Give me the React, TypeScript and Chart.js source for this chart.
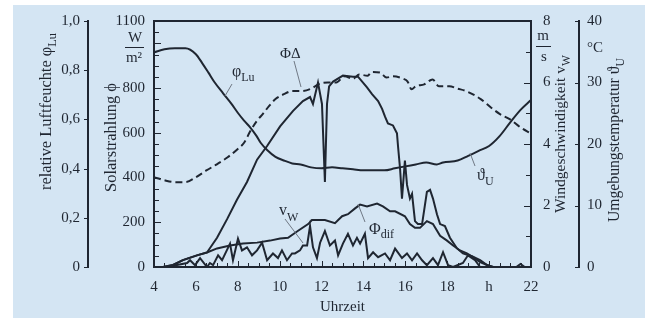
import React, { useEffect, useRef } from "react";
import { Chart, registerables } from "chart.js";

Chart.register(...registerables);

const W = 649;
const H = 320;
const INK = "#1f2631";
const LEADER = "#707985";
const BG = "#d4e5f3";
const SERIF = "'Liberation Serif', 'DejaVu Serif', serif";

// tick values
const timeTicks = [4, 6, 8, 10, 12, 14, 16, 18, 20, 22];
const solarTicks = [0, 200, 400, 600, 800, 1100];
const humidityTicks = [0, 0.2, 0.4, 0.6, 0.8, 1.0];
const windTicks = [0, 2, 4, 6, 8];
const tempTicks = [0, 10, 20, 30, 40];

// relative humidity φLu (0..1)
const humidityTime = [4.0, 4.5, 5.0, 5.5, 6.0, 6.3, 6.6, 6.9, 7.3, 7.7, 8.0, 8.3, 8.6, 8.9, 9.1, 9.4, 9.8, 10.2, 10.6, 11.0, 11.5, 12.0, 12.5, 13.0, 13.5, 14.0, 14.5, 15.0, 15.5, 16.0, 16.5, 17.0, 17.5, 17.8, 18.5, 19.0, 19.5, 20.0, 20.5, 21.0, 21.5, 22.0];
const humidityValue = [0.873, 0.885, 0.889, 0.889, 0.865, 0.829, 0.79, 0.75, 0.706, 0.663, 0.627, 0.595, 0.567, 0.532, 0.504, 0.476, 0.448, 0.433, 0.421, 0.417, 0.405, 0.401, 0.405, 0.401, 0.397, 0.393, 0.393, 0.393, 0.401, 0.409, 0.417, 0.425, 0.417, 0.425, 0.433, 0.452, 0.472, 0.492, 0.532, 0.587, 0.639, 0.679];

// ambient temperature ϑU (°C)
const tempTime = [4.0, 4.5, 5.0, 5.5, 6.0, 6.5, 7.0, 7.5, 8.0, 8.3, 8.6, 8.9, 9.2, 9.5, 9.8, 10.2, 10.6, 11.0, 11.5, 11.9, 12.3, 12.7, 13.1, 13.5, 13.8, 14.2, 14.4, 14.8, 15.1, 15.4, 15.9, 16.1, 16.3, 16.5, 16.9, 17.3, 17.6, 18.1, 18.5, 18.9, 19.6, 20.1, 20.5, 21.0, 21.5, 22.0];
const tempValue = [14.6, 14.1, 13.8, 13.8, 14.6, 15.7, 16.7, 17.8, 19.2, 20.2, 22.1, 23.7, 24.9, 26.2, 27.3, 28.1, 28.6, 28.6, 29.0, 29.8, 30.0, 30.0, 31.0, 30.6, 31.3, 31.1, 31.7, 31.6, 30.8, 31.0, 30.6, 30.2, 28.9, 29.4, 29.7, 30.5, 29.4, 29.4, 29.0, 28.6, 27.3, 25.9, 24.9, 24.0, 22.7, 21.7];

// global solar radiation ΦΔ (W/m²)
const globalTime = [4.43, 4.91, 5.38, 6.05, 6.53, 7.01, 7.49, 7.96, 8.44, 8.92, 9.4, 10.02, 10.64, 11.11, 11.45, 11.59, 11.83, 12.02, 12.16, 12.26, 12.36, 12.55, 13.02, 13.5, 13.74, 14.17, 14.41, 14.7, 14.89, 15.03, 15.17, 15.41, 15.6, 15.65, 15.75, 15.84, 15.98, 16.08, 16.22, 16.32, 16.46, 16.6, 16.8, 17.03, 17.18, 17.32, 17.51, 17.66, 17.89, 18.13, 18.47, 18.75, 19.18, 19.57, 19.9, 20.19];
const globalValue = [0, 9, 31, 52, 65, 131, 214, 301, 380, 480, 541, 629, 698, 742, 760, 729, 825, 729, 380, 729, 808, 829, 856, 851, 851, 803, 773, 742, 707, 672, 642, 633, 598, 541, 437, 306, 476, 367, 306, 327, 205, 192, 192, 336, 345, 306, 236, 192, 183, 131, 83, 61, 48, 31, 9, 0];

// diffuse radiation Φdif (W/m²)
const diffuseTime = [4.43, 4.91, 5.38, 6.05, 6.53, 7.01, 7.63, 8.25, 8.92, 9.54, 10.02, 10.4, 10.88, 11.36, 11.54, 12.16, 12.64, 12.98, 13.26, 13.6, 13.84, 14.17, 14.65, 14.93, 15.27, 15.51, 15.98, 16.22, 16.46, 16.7, 17.03, 17.32, 17.66, 17.99, 18.28, 18.61, 18.94, 19.23, 19.57, 19.9, 20.19];
const diffuseValue = [0, 9, 31, 52, 65, 83, 96, 105, 109, 118, 127, 131, 162, 192, 210, 210, 196, 227, 236, 262, 279, 271, 284, 271, 249, 249, 227, 192, 175, 175, 205, 192, 140, 118, 96, 74, 61, 44, 22, 9, 0];

// wind speed vW (m/s)
const windTime = [4.62, 5.58, 5.72, 5.96, 6.2, 6.53, 6.67, 6.82, 7.06, 7.25, 7.63, 7.77, 8.01, 8.2, 8.44, 8.68, 8.92, 9.16, 9.4, 9.68, 9.92, 10.11, 10.35, 10.59, 10.73, 10.97, 11.11, 11.31, 11.45, 11.59, 11.78, 11.93, 12.16, 12.4, 12.64, 12.79, 13.02, 13.26, 13.5, 13.69, 13.84, 14.07, 14.22, 14.46, 14.7, 15.03, 15.27, 15.51, 15.84, 16.08, 16.32, 16.56, 16.8, 17.03, 17.32, 17.56, 17.8, 18.04, 18.28, 18.75, 18.99, 19.33, 19.57, 21.3, 21.5, 21.7];
const windValue = [0, 0.13, 0.22, 0.06, 0.29, 0, 0.13, 0.06, 0.38, 0.22, 0.76, 0.22, 0.92, 0.54, 0.64, 0.38, 0.54, 0.79, 0.22, 0.44, 0.29, 0.54, 0.22, 0.44, 0.44, 0.54, 0.7, 0.7, 1.33, 0.64, 0.29, 0.79, 1.17, 0.7, 0.86, 0.38, 0.76, 1.08, 0.7, 0.95, 0.76, 1.08, 0.29, 0.48, 0.32, 0.44, 0.22, 0.6, 0.29, 0.44, 0.22, 0.44, 0.22, 0.06, 0.29, 0.06, 0.48, 0.06, 0, 0.13, 0.38, 0.22, 0, 0, 0.1, 0];

function pts(t: number[], v: number[]) {
  return t.map((x, i) => ({ x, y: v[i] }));
}

type Part = { t: string; size: number; dy: number };

function drawRich(ctx: CanvasRenderingContext2D, parts: Part[], x: number, y: number, scale = 1) {
  let cx = x;
  for (const p of parts) {
    ctx.font = `${p.size * scale}px ${SERIF}`;
    ctx.fillText(p.t, cx, y + p.dy * scale);
    cx += ctx.measureText(p.t).width;
  }
}

function richWidth(ctx: CanvasRenderingContext2D, parts: Part[]) {
  let w = 0;
  for (const p of parts) {
    ctx.font = `${p.size}px ${SERIF}`;
    w += ctx.measureText(p.t).width;
  }
  return w;
}

// vertical text reading bottom-to-top, fitted between yBottom and yTop
function drawVertical(ctx: CanvasRenderingContext2D, parts: Part[], baseX: number, yBottom: number, yTop: number) {
  const w = richWidth(ctx, parts);
  const scale = Math.min(1.15, Math.max(0.85, (yBottom - yTop) / w));
  ctx.save();
  ctx.translate(baseX, yBottom);
  ctx.rotate(-Math.PI / 2);
  ctx.textAlign = "left";
  ctx.textBaseline = "alphabetic";
  drawRich(ctx, parts, 0, 0, scale);
  ctx.restore();
}

function line(ctx: CanvasRenderingContext2D, x1: number, y1: number, x2: number, y2: number) {
  ctx.beginPath();
  ctx.moveTo(x1, y1);
  ctx.lineTo(x2, y2);
  ctx.stroke();
}

const decorPlugin = {
  id: "decor",
  beforeDraw(chart: any) {
    const ctx: CanvasRenderingContext2D = chart.ctx;
    ctx.save();
    ctx.fillStyle = "#ffffff";
    ctx.fillRect(0, 0, W, H);
    ctx.fillStyle = BG;
    ctx.fillRect(13, 5, 632, 313);
    ctx.restore();
  },
  afterDraw(chart: any) {
    const ctx: CanvasRenderingContext2D = chart.ctx;
    const a = chart.chartArea;
    const { x: sx, yS, yW, yH, yT } = chart.scales;
    ctx.save();
    ctx.strokeStyle = INK;
    ctx.fillStyle = INK;

    // top frame line
    ctx.lineWidth = 2;
    line(ctx, a.left - 1, a.top, a.right + 1, a.top);

    // inner ticks
    ctx.lineWidth = 1;
    for (let v = 50; v < 1100; v += 50) {
      const y = Math.round(yS.getPixelForValue(v)) + 0.5;
      const len = v % 200 === 0 ? 7 : 5;
      line(ctx, a.left, y, a.left + len, y);
    }
    for (let v = 1; v < 8; v += 1) {
      const y = Math.round(yW.getPixelForValue(v)) + 0.5;
      const len = v % 2 === 0 ? 7 : 5;
      line(ctx, a.right, y, a.right - len, y);
    }
    for (let t = 4.5; t < 22; t += 0.5) {
      const x = Math.round(sx.getPixelForValue(t)) + 0.5;
      const len = Math.abs(t % 2) < 0.01 ? 6 : 4;
      line(ctx, x, a.bottom, x, a.bottom - len);
    }
    // ticks on the humidity and temperature axes
    const hx = yH.right;
    for (const v of humidityTicks) {
      const y = Math.round(yH.getPixelForValue(v)) + 0.5;
      line(ctx, hx, y, hx - 4, y);
    }
    const tx = yT.left;
    for (const v of tempTicks) {
      const y = Math.round(yT.getPixelForValue(v)) + 0.5;
      line(ctx, tx - 4, y, tx, y);
    }

    // axis titles
    ctx.fillStyle = INK;
    drawVertical(ctx, [
      { t: "relative Luftfeuchte φ", size: 16, dy: 0 },
      { t: "Lu", size: 12, dy: 5 },
    ], 51, 190, 33);
    drawVertical(ctx, [{ t: "Solarstrahlung ϕ", size: 16, dy: 0 }], 116, 192, 83);
    drawVertical(ctx, [
      { t: "Windgeschwindigkeit v", size: 16, dy: 0 },
      { t: "W", size: 12, dy: 5 },
    ], 565, 213, 55);
    drawVertical(ctx, [
      { t: "Umgebungstemperatur ϑ", size: 16, dy: 0 },
      { t: "U", size: 12, dy: 5 },
    ], 619, 222, 58);

    // unit labels
    ctx.textAlign = "center";
    ctx.textBaseline = "middle";
    ctx.font = `15px ${SERIF}`;
    ctx.fillText("W", 135, 38);
    ctx.fillText("m²", 134, 58);
    ctx.lineWidth = 1;
    line(ctx, 125, 47.5, 144, 47.5);
    ctx.fillText("m", 543, 36);
    ctx.fillText("s", 544, 57);
    line(ctx, 536, 46.5, 551, 46.5);
    ctx.textAlign = "left";
    ctx.fillText("°C", 587, 48);

    // in-plot labels
    ctx.textAlign = "left";
    ctx.textBaseline = "alphabetic";
    drawRich(ctx, [{ t: "φ", size: 16, dy: 0 }, { t: "Lu", size: 12, dy: 5 }], 232, 76);
    drawRich(ctx, [{ t: "ΦΔ", size: 15, dy: 0 }], 280, 58);
    drawRich(ctx, [{ t: "v", size: 16, dy: 0 }, { t: "W", size: 12, dy: 6 }], 279, 215);
    drawRich(ctx, [{ t: "Φ", size: 16, dy: 0 }, { t: "dif", size: 12, dy: 4 }], 369, 234);
    drawRich(ctx, [{ t: "ϑ", size: 16, dy: 0 }, { t: "U", size: 12, dy: 5 }], 477, 180);

    // leader lines
    ctx.strokeStyle = LEADER;
    ctx.lineWidth = 1;
    line(ctx, 232, 84, 225, 96);
    line(ctx, 294, 61, 301, 87);
    line(ctx, 285, 219, 303, 243);
    line(ctx, 365, 222, 358, 204);
    line(ctx, 475, 166, 470, 153);

    ctx.restore();
  },
};

const tickFont = { family: SERIF, size: 15 };
const plainNumber = (v: any) => String(v);

export default function App() {
  const ref = useRef<HTMLCanvasElement | null>(null);

  useEffect(() => {
    if (!ref.current) return;
    const lineDs = (data: any[], axis: string, extra: any = {}) => ({
      data,
      yAxisID: axis,
      borderColor: INK,
      backgroundColor: INK,
      borderWidth: 2,
      pointRadius: 0,
      fill: false,
      tension: 0,
      ...extra,
    });

    const chart = new Chart(ref.current, {
      type: "line",
      data: {
        datasets: [
          lineDs(pts(humidityTime, humidityValue), "yH", { label: "φLu", cubicInterpolationMode: "monotone" }),
          lineDs(pts(tempTime, tempValue), "yT", { label: "ϑU", borderDash: [7, 4], cubicInterpolationMode: "monotone" }),
          lineDs(pts(globalTime, globalValue), "yS", { label: "ΦΔ" }),
          lineDs(pts(diffuseTime, diffuseValue), "yS", { label: "Φdif" }),
          lineDs(pts(windTime, windValue), "yW", { label: "vW" }),
        ],
      },
      options: {
        animation: false,
        responsive: false,
        devicePixelRatio: 1,
        layout: { padding: { top: 15, left: 0, right: 0, bottom: 0 } },
        plugins: { legend: { display: false }, tooltip: { enabled: false } },
        scales: {
          x: {
            type: "linear",
            position: "bottom",
            min: 4,
            max: 22,
            afterBuildTicks: (s: any) => { s.ticks = timeTicks.map((value) => ({ value })); },
            afterFit: (s: any) => { s.height = 53; },
            ticks: {
              callback: (v: any) => (v === 20 ? "h" : String(v)),
              font: tickFont,
              color: INK,
              padding: 11,
              maxRotation: 0,
              autoSkip: false,
            },
            grid: { drawOnChartArea: false, drawTicks: false },
            border: { color: INK, width: 2 },
            title: { display: true, text: "Uhrzeit", font: tickFont, color: INK, padding: { top: 0, bottom: 4 } },
          },
          yH: {
            type: "linear",
            position: "left",
            weight: 2,
            min: 0,
            max: 1,
            afterBuildTicks: (s: any) => { s.ticks = humidityTicks.map((value) => ({ value })); },
            afterFit: (s: any) => { s.width = 88; },
            ticks: {
              callback: (v: any) => (v === 0 ? "0" : Number(v).toFixed(1).replace(".", ",")),
              font: tickFont,
              color: INK,
              padding: 8,
            },
            grid: { drawOnChartArea: false, drawTicks: false },
            border: { color: INK, width: 2 },
          },
          yS: {
            type: "linear",
            position: "left",
            weight: 1,
            min: 0,
            max: 1100,
            afterBuildTicks: (s: any) => { s.ticks = solarTicks.map((value) => ({ value })); },
            afterFit: (s: any) => { s.width = 66; },
            ticks: { font: tickFont, color: INK, padding: 9, callback: plainNumber },
            grid: { drawOnChartArea: false, drawTicks: false },
            border: { color: INK, width: 2 },
          },
          yW: {
            type: "linear",
            position: "right",
            weight: 1,
            min: 0,
            max: 8,
            afterBuildTicks: (s: any) => { s.ticks = windTicks.map((value) => ({ value })); },
            afterFit: (s: any) => { s.width = 48; },
            ticks: { font: tickFont, color: INK, padding: 12, callback: plainNumber },
            grid: { drawOnChartArea: false, drawTicks: false },
            border: { color: INK, width: 2 },
          },
          yT: {
            type: "linear",
            position: "right",
            weight: 2,
            min: 0,
            max: 40,
            afterBuildTicks: (s: any) => { s.ticks = tempTicks.map((value) => ({ value })); },
            afterFit: (s: any) => { s.width = 70; },
            ticks: { font: tickFont, color: INK, padding: 8, callback: plainNumber },
            grid: { drawOnChartArea: false, drawTicks: false },
            border: { color: INK, width: 2 },
          },
        },
      } as any,
      plugins: [decorPlugin as any],
    });
    return () => chart.destroy();
  }, []);

  return (
    <div style={{ position: "absolute", left: 0, top: 0, width: W, height: H, background: "#ffffff" }}>
      <canvas ref={ref} width={W} height={H} style={{ display: "block", width: W, height: H }} />
    </div>
  );
}
